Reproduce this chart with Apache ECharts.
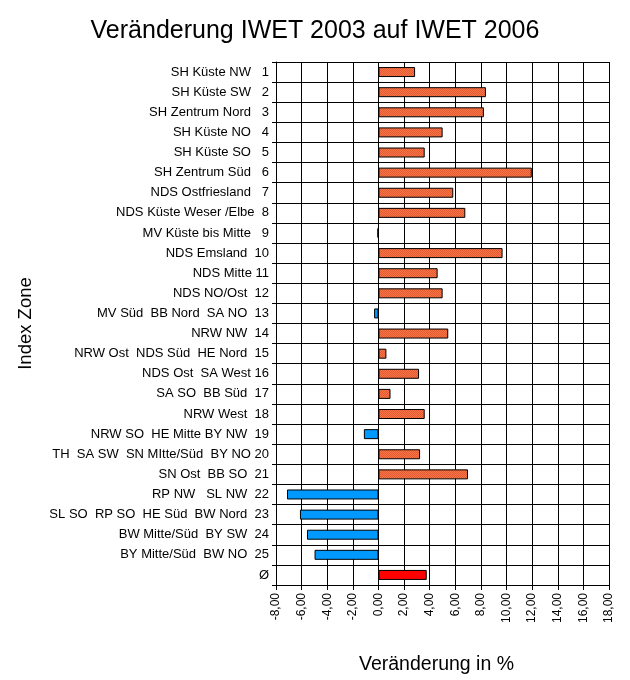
<!DOCTYPE html>
<html>
<head>
<meta charset="utf-8">
<script src="https://cdn.jsdelivr.net/npm/echarts@6/dist/echarts.min.js"></script>
<style>
html,body{margin:0;padding:0;background:#fff;}
#c{width:630px;height:680px;}
</style>
</head>
<body>
<div id="c"></div>
<script>
var categories = [
  "SH Küste NW   1", "SH Küste SW   2", "SH Zentrum Nord   3", "SH Küste NO   4",
  "SH Küste SO   5", "SH Zentrum Süd   6", "NDS Ostfriesland   7", "NDS Küste Weser /Elbe  8",
  "MV Küste bis Mitte   9", "NDS Emsland  10", "NDS Mitte 11", "NDS NO/Ost  12",
  "MV Süd  BB Nord  SA NO  13", "NRW NW  14", "NRW Ost  NDS Süd  HE Nord  15", "NDS Ost  SA West 16",
  "SA SO  BB Süd  17", "NRW West  18", "NRW SO  HE Mitte BY NW  19", "TH  SA SW  SN MItte/Süd  BY NO 20",
  "SN Ost  BB SO  21", "RP NW   SL NW  22", "SL SO  RP SO  HE Süd  BW Nord  23", "BW Mitte/Süd  BY SW  24",
  "BY Mitte/Süd  BW NO  25", "Ø"
];
var values = [
  2.86, 8.39, 8.23, 5.01, 3.61, 11.97, 5.84, 6.78, -0.08, 9.69, 4.62, 5.01, -0.34,
  5.45, 0.62, 3.17, 0.94, 3.61, -1.14, 3.25, 6.99, -7.14, -6.13, -5.58, -4.99, 3.77
];
var averageLabel = "Ø";
var xTicks = { min: -8, max: 18, interval: 2 };

var pc = document.createElement('canvas');
pc.width = 2; pc.height = 2;
var ctx = pc.getContext('2d');
ctx.fillStyle = '#f47545'; ctx.fillRect(0, 0, 2, 2);
ctx.fillStyle = '#e55a32'; ctx.fillRect(0, 0, 1, 1); ctx.fillRect(1, 1, 1, 1);
var posFill = { image: pc, repeat: 'repeat' };

var chart = echarts.init(document.getElementById('c'), null, { renderer: 'canvas' });
var font = '"Liberation Sans", Arial, sans-serif';
chart.setOption({
  animation: false,
  backgroundColor: '#ffffff',
  title: {
    text: 'Veränderung IWET 2003 auf IWET 2006',
    left: 'center', top: 14,
    textStyle: { fontFamily: font, fontSize: 25, fontWeight: 'normal', color: '#000' }
  },
  grid: { left: 276, right: 21, top: 62, bottom: 94, containLabel: false },
  xAxis: {
    type: 'value', min: xTicks.min, max: xTicks.max, interval: xTicks.interval,
    name: 'Veränderung in %', nameLocation: 'middle', nameGap: 70,
    nameTextStyle: { fontFamily: font, fontSize: 19.5, color: '#000', padding: [0, 12, 0, 0] },
    axisLine: { show: true, lineStyle: { color: '#000', width: 1 } },
    axisTick: { show: true, length: 5, lineStyle: { color: '#000' } },
    splitLine: { show: true, lineStyle: { color: '#000', width: 1 } },
    axisLabel: {
      rotate: 90, margin: 8, color: '#000', fontFamily: font, fontSize: 12,
      formatter: function (v) { return v.toFixed(2).replace('.', ','); }
    }
  },
  yAxis: {
    type: 'category', data: categories, inverse: true,
    name: 'Index Zone', nameLocation: 'middle', nameGap: 241,
    nameTextStyle: { fontFamily: font, fontSize: 18.5, color: '#000' },
    axisLine: { show: true, onZero: false, lineStyle: { color: '#000', width: 1 } },
    axisTick: { show: true, length: 4, lineStyle: { color: '#000' } },
    splitLine: { show: true, lineStyle: { color: '#000', width: 1 } },
    axisLabel: { margin: 7, color: '#000', fontFamily: font, fontSize: 13, interval: 0 }
  },
  series: [{
    type: 'bar', barWidth: 10,
    data: values.map(function (v, i) {
      var c = categories[i] === averageLabel ? '#ff0000' : (v < 0 ? '#0099ff' : posFill);
      return { value: v, itemStyle: { color: c, borderColor: '#000', borderWidth: 1 } };
    })
  }]
});
</script>
</body>
</html>
